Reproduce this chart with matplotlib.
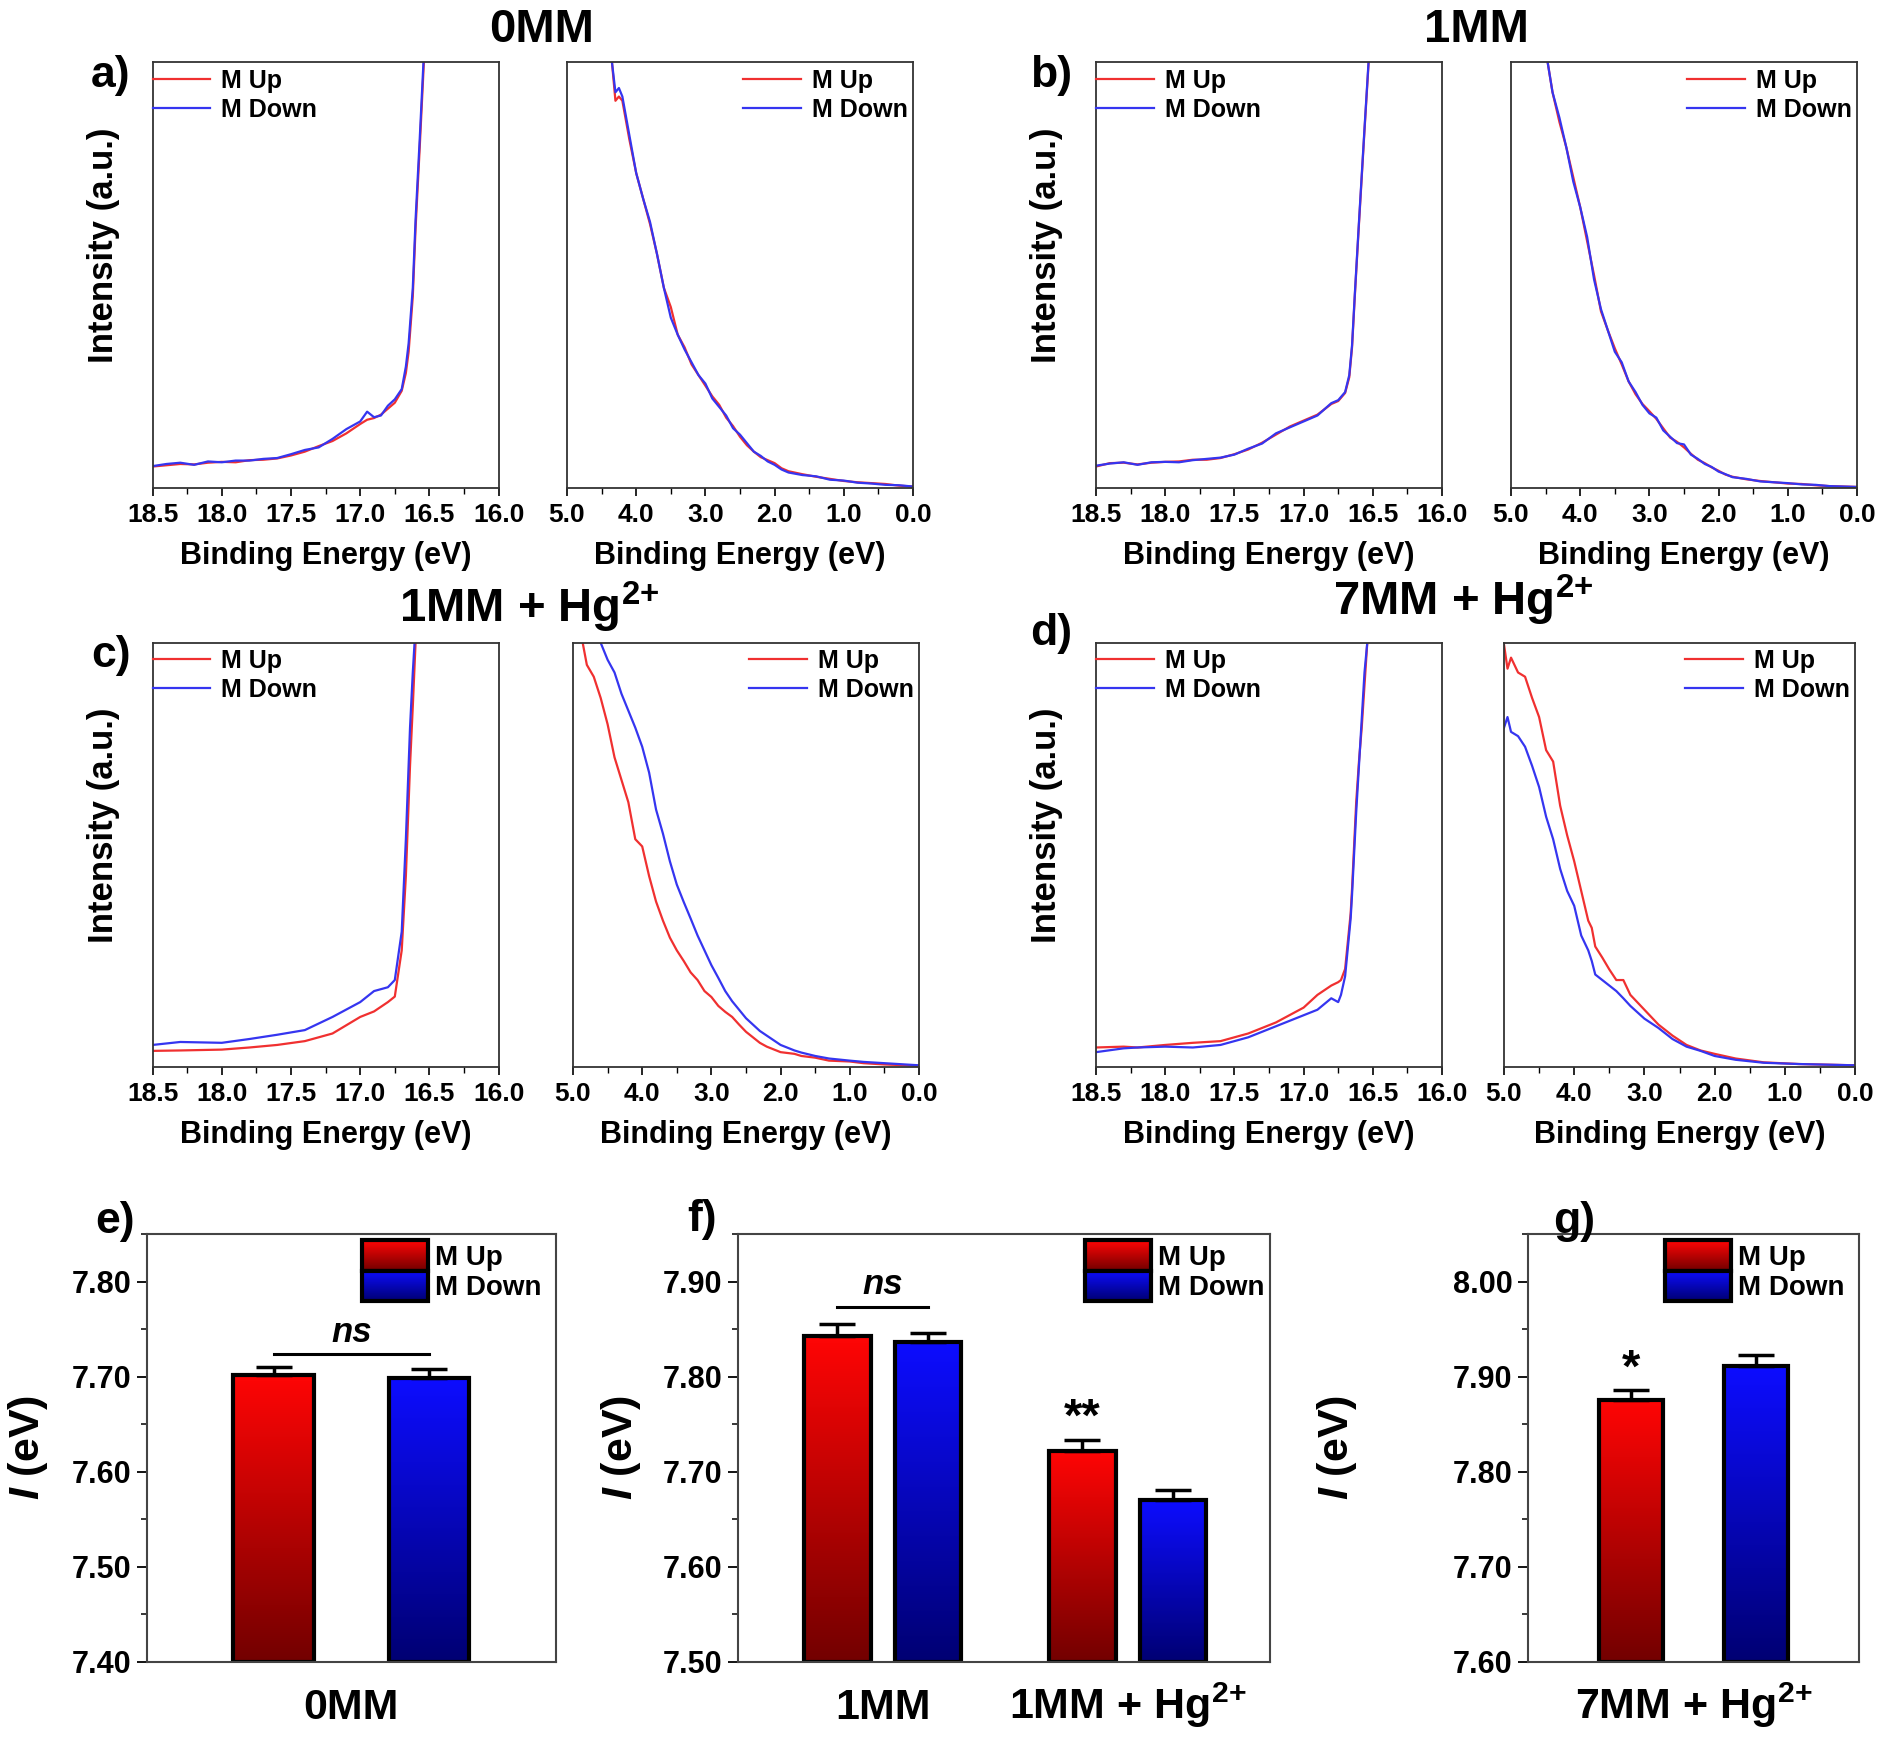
import numpy as np
import matplotlib
matplotlib.use("Agg")
import matplotlib.pyplot as plt
from matplotlib.ticker import MultipleLocator, FormatStrFormatter
from matplotlib.legend_handler import HandlerBase
from matplotlib.image import BboxImage
from matplotlib.transforms import Bbox, TransformedBbox, blended_transform_factory
from matplotlib.patches import Rectangle
from matplotlib.colors import LinearSegmentedColormap, Normalize

plt.rcParams['font.family'] = ['Liberation Sans', 'DejaVu Sans']
plt.rcParams['font.weight'] = 'bold'
plt.rcParams['axes.labelweight'] = 'bold'
plt.rcParams['mathtext.fontset'] = 'custom'
plt.rcParams['mathtext.rm'] = 'Liberation Sans:bold'
plt.rcParams['mathtext.bf'] = 'Liberation Sans:bold'
plt.rcParams['mathtext.it'] = 'Liberation Sans:italic:bold'

# ---- spectra (UPS), intensity in a.u. (axis 0..100) ----
# a) 0MM - secondary electron cutoff
A_CUT_E = [18.5, 18.4, 18.3, 18.2, 18.1, 18.0, 17.9, 17.8, 17.7, 17.6, 17.5, 17.4, 17.3, 17.2, 17.1,
           17.0, 16.95, 16.9, 16.85, 16.8, 16.75, 16.7, 16.67, 16.65, 16.62, 16.6, 16.57, 16.54, 16.5]
A_CUT_UP = [5.0, 5.3, 5.6, 5.5, 5.9, 6.1, 6.0, 6.5, 6.6, 6.9, 7.6, 8.5, 9.8, 11.0, 12.8,
            15.0, 16.0, 16.4, 17.2, 18.6, 20.0, 22.8, 27.0, 32.0, 45.0, 61.0, 80.0, 100.0, 125.0]
A_CUT_DOWN = [5.1, 5.6, 5.9, 5.4, 6.2, 6.0, 6.4, 6.4, 6.8, 7.0, 7.9, 8.9, 9.5, 11.5, 13.8,
              15.6, 17.9, 16.6, 17.0, 19.3, 20.8, 23.2, 28.5, 34.0, 47.0, 63.0, 82.0, 102.0, 127.0]
# a) 0MM - valence band onset
A_VB_E = [4.42, 4.35, 4.3, 4.25, 4.2, 4.1, 4.0, 3.9, 3.8, 3.7, 3.6, 3.5, 3.4, 3.3, 3.2, 3.1, 3.0, 2.9, 2.8,
          2.7, 2.6, 2.5, 2.4, 2.3, 2.2, 2.1, 2.0, 1.9, 1.8, 1.6, 1.4, 1.2, 1.0, 0.8, 0.6, 0.4, 0.2, 0.0]
A_VB_UP = [108, 100, 91, 92, 91, 82, 74, 68, 62, 55, 47, 42.5, 36, 33, 29, 26.5, 24, 21.5, 19.5,
           16.5, 14.5, 12, 10, 8.5, 7.2, 6.5, 5.8, 4.6, 3.9, 3.2, 2.6, 2.1, 1.6, 1.3, 1.1, 0.9, 0.5, 0.3]
A_VB_DOWN = [108, 100, 93, 94, 92, 83, 74, 68, 62.5, 55, 47, 40, 36, 32.5, 29.5, 26.5, 24.5, 21, 19,
             17, 14, 12.5, 10.5, 8.5, 7.5, 6.2, 5.4, 4.3, 3.6, 3.0, 2.7, 1.9, 1.7, 1.2, 1.0, 0.7, 0.6, 0.3]

# b) 1MM
B_CUT_E = [18.5, 18.4, 18.3, 18.2, 18.1, 18.0, 17.9, 17.8, 17.7, 17.6, 17.5, 17.4, 17.3, 17.2, 17.1,
           17.0, 16.9, 16.8, 16.75, 16.7, 16.67, 16.65, 16.63, 16.6, 16.56, 16.53, 16.5]
B_CUT_UP = [5.0, 5.8, 5.9, 5.5, 5.9, 6.1, 6.2, 6.6, 6.6, 7.0, 7.9, 9.0, 10.6, 12.5, 14.4,
            15.8, 17.2, 19.7, 20.4, 22.3, 26.0, 33.0, 45.0, 62.0, 84.0, 100.0, 122.0]
B_CUT_DOWN = [5.2, 5.7, 6.0, 5.4, 6.0, 6.1, 6.0, 6.5, 6.8, 7.1, 7.8, 9.2, 10.4, 12.8, 14.2,
              15.6, 17.0, 19.9, 20.6, 22.5, 26.5, 33.5, 45.5, 62.5, 84.5, 100.5, 122.5]
B_VB_E = [4.47, 4.4, 4.3, 4.2, 4.1, 4.0, 3.9, 3.8, 3.7, 3.6, 3.5, 3.4, 3.3, 3.2, 3.1, 3.0, 2.9, 2.8, 2.7,
          2.6, 2.5, 2.4, 2.3, 2.2, 2.1, 2.0, 1.9, 1.8, 1.6, 1.4, 1.2, 1.0, 0.8, 0.6, 0.4, 0.2, 0.0]
B_VB_UP = [100, 93, 86, 80, 73, 66, 58, 50, 41.5, 37, 32.8, 29, 25, 22, 19.7, 18, 16.2, 14, 11.8,
           10.8, 9.5, 8, 6.6, 5.8, 4.8, 4.0, 3.1, 2.6, 2.0, 1.6, 1.3, 1.0, 0.9, 0.6, 0.4, 0.3, 0.2]
B_VB_DOWN = [100, 93, 87, 80, 72, 66, 59, 49, 42, 37, 32, 29.5, 25, 22.5, 19.5, 17.5, 16.5, 13.5, 12,
             10.5, 10.2, 7.8, 6.8, 5.6, 4.9, 3.8, 3.2, 2.5, 2.1, 1.5, 1.3, 1.1, 0.8, 0.7, 0.4, 0.3, 0.2]

# c) 1MM + Hg2+
C_CUT_E = [18.5, 18.3, 18.0, 17.8, 17.6, 17.4, 17.2, 17.0, 16.9, 16.8, 16.75, 16.7, 16.67, 16.64,
           16.62, 16.6, 16.57, 16.54]
C_CUT_UP = [3.8, 3.9, 4.1, 4.6, 5.2, 6.1, 7.9, 11.8, 13.1, 15.3, 16.6, 27.5, 45.0, 71.0,
            85.0, 100.0, 118.0, 135.0]
C_CUT_DOWN = [5.2, 5.9, 5.7, 6.6, 7.6, 8.7, 11.8, 15.3, 17.9, 18.8, 20.5, 31.9, 53.7, 80.0,
              93.0, 104.0, 122.0, 140.0]
C_VB_E = [4.86, 4.8, 4.7, 4.6, 4.5, 4.4, 4.3, 4.2, 4.1, 4.0, 3.9, 3.8, 3.7, 3.6, 3.5, 3.4, 3.3, 3.2, 3.1,
          3.0, 2.9, 2.8, 2.7, 2.6, 2.5, 2.4, 2.3, 2.2, 2.0, 1.8, 1.7, 1.5, 1.3, 1.0, 0.8, 0.5, 0.0]
C_VB_UP = [100, 94.8, 92, 87, 80.8, 73, 67.7, 62.4, 53.7, 52, 45, 39, 34.5, 30.5, 27.5, 25, 22.3, 20.5, 17.9,
           16.5, 14.4, 13, 11.8, 10, 8.3, 7, 5.7, 4.8, 3.5, 3.1, 2.6, 2.2, 1.5, 1.3, 0.9, 0.6, 0.3]
C_VB_DOWN = [140, 125, 110, 100, 96, 93, 88, 84, 80, 75.5, 69.4, 60.7, 55, 48.5, 43, 38.9, 35, 31, 27.5,
             24, 21, 17.9, 15.5, 13.5, 11.5, 10, 8.5, 7.4, 5.2, 3.9, 3.4, 2.6, 2.0, 1.5, 1.2, 0.9, 0.4]

# d) 7MM + Hg2+
D_CUT_E = [18.5, 18.3, 18.2, 18.0, 17.8, 17.6, 17.4, 17.2, 17.0, 16.9, 16.8, 16.75, 16.73, 16.7,
           16.66, 16.65, 16.62, 16.6, 16.58, 16.56, 16.54, 16.5]
D_CUT_UP = [4.6, 4.8, 4.6, 5.2, 5.7, 6.1, 7.9, 10.5, 14.0, 17.0, 19.2, 20.0, 20.5, 23.1,
            36.2, 42.0, 62.4, 72.0, 80.0, 90.0, 100.0, 125.0]
D_CUT_DOWN = [3.5, 4.4, 4.6, 4.8, 4.6, 5.2, 7.0, 9.6, 12.2, 13.5, 16.2, 15.3, 17.0, 21.4,
              35.0, 40.6, 60.0, 71.0, 82.0, 93.0, 100.0, 125.0]
D_VB_E = [5.0, 4.95, 4.9, 4.8, 4.7, 4.6, 4.5, 4.4, 4.3, 4.2, 4.1, 4.0, 3.9, 3.8, 3.75, 3.7, 3.6, 3.5,
          3.4, 3.3, 3.2, 3.0, 2.8, 2.6, 2.4, 2.2, 2.0, 1.7, 1.3, 0.8, 0.0]
D_VB_UP = [99.6, 93.9, 96.5, 93, 92, 87, 82.5, 74.7, 72, 61.6, 54.6, 48.5, 41.5, 34.5, 32.8, 28.4, 25.8, 23,
           20.5, 20.5, 17, 13.5, 10, 7.4, 5.2, 3.9, 3.1, 2.0, 1.1, 0.7, 0.4]
D_VB_DOWN = [80, 82.5, 79, 78, 75.5, 71, 66, 59, 53.7, 46.7, 41.5, 38, 31, 27.5, 25, 21.8, 20.5, 19.2,
             17.9, 16.2, 14.4, 11.4, 9.2, 6.6, 4.8, 3.8, 2.6, 1.7, 1.0, 0.7, 0.4]

# ---- ionisation energy bars ----
HG = r'Hg$^{\mathbf{2}\mathbf{+}}$'
E_GROUPS = ['0MM']
E_UP, E_UP_ERR = [7.702], [0.008]
E_DOWN, E_DOWN_ERR = [7.698], [0.010]
F_GROUPS = ['1MM', '1MM + ' + HG]
F_UP, F_UP_ERR = [7.843, 7.722], [0.012, 0.011]
F_DOWN, F_DOWN_ERR = [7.836, 7.670], [0.010, 0.011]
G_GROUPS = ['7MM + ' + HG]
G_UP, G_UP_ERR = [7.875], [0.011]
G_DOWN, G_DOWN_ERR = [7.911], [0.012]

RED = '#f03030'
BLUE = '#3535f0'
RED_CMAP = LinearSegmentedColormap.from_list('r', [(0.45, 0, 0), (1.0, 0.02, 0.02)])
BLUE_CMAP = LinearSegmentedColormap.from_list('b', [(0, 0, 0.45), (0.05, 0.05, 1.0)])

W, H = 1884, 1737
fig = plt.figure(figsize=(W / 100, H / 100), dpi=100)


def rect(x0, y0, x1, y1):
    return [x0 / W, 1 - y1 / H, (x1 - x0) / W, (y1 - y0) / H]


def spectrum(ax, e, up, down, xlim, major, minor, legend_loc, ylabel):
    ax.plot(e, up, color=RED, lw=1.6, label='M Up')
    ax.plot(e, down, color=BLUE, lw=1.6, label='M Down')
    ax.set_xlim(*xlim)
    ax.set_ylim(0, 100)
    ax.set_yticks([])
    ax.xaxis.set_major_locator(MultipleLocator(major))
    ax.xaxis.set_minor_locator(MultipleLocator(minor))
    ax.xaxis.set_major_formatter(FormatStrFormatter('%.1f'))
    ax.tick_params(axis='x', which='major', direction='out', length=6, width=1.2,
                   labelsize=19, pad=5)
    ax.tick_params(axis='x', which='minor', direction='out', length=4, width=1.0)
    for s in ax.spines.values():
        s.set_color('#333333')
        s.set_linewidth(1.3)
    ax.set_xlabel('Binding Energy (eV)', fontsize=22, labelpad=10)
    if ylabel:
        ax.set_ylabel('Intensity (a.u.)', fontsize=25)
        ax.yaxis.set_label_coords(-0.095, 0.57)
    if legend_loc == 'upper left':
        anchor = (0.0, 0.985)
    else:
        anchor = (0.985, 0.985)
    ax.legend(loc=legend_loc, bbox_to_anchor=anchor, frameon=False, fontsize=18,
              borderaxespad=0, borderpad=0, handlelength=2.3, handletextpad=0.45,
              labelspacing=0.2)


class HandlerGradient(HandlerBase):
    def __init__(self, cmap):
        super().__init__()
        self.cmap = cmap

    def create_artists(self, legend, orig_handle, xdescent, ydescent, width, height, fontsize, trans):
        bb = TransformedBbox(Bbox.from_bounds(-xdescent, -ydescent, width, height), trans)
        img = BboxImage(bb, cmap=self.cmap, norm=Normalize(0, 1), interpolation='bilinear',
                        origin='lower')
        img.set_data(np.linspace(0, 1, 64).reshape(-1, 1))
        edge = Rectangle((-xdescent, -ydescent), width, height, fill=False,
                         edgecolor='black', lw=3, transform=trans)
        return [img, edge]


def bars(ax, groups, up, up_err, down, down_err, offset, width, xlim, ylim, legend_x):
    x = np.arange(len(groups))
    for vals, errs, sign, cmap in [(up, up_err, -1, RED_CMAP), (down, down_err, 1, BLUE_CMAP)]:
        for xi, v, er in zip(x, vals, errs):
            xc = xi + sign * offset
            ax.imshow(np.linspace(0, 1, 128).reshape(-1, 1), cmap=cmap, aspect='auto',
                      origin='lower', extent=[xc - width / 2, xc + width / 2, ylim[0], v],
                      interpolation='bilinear', zorder=1)
            ax.bar(xc, v - ylim[0], bottom=ylim[0], width=width, fill=False,
                   edgecolor='black', lw=3, zorder=2)
            ax.errorbar(xc, v, yerr=[[0], [er]], fmt='none', ecolor='black',
                        elinewidth=2.5, capsize=13, capthick=2.5, zorder=3)
    ax.set_xlim(*xlim)
    ax.set_ylim(*ylim)
    ax.set_xticks([])
    ax.yaxis.set_major_locator(MultipleLocator(0.1))
    ax.yaxis.set_minor_locator(MultipleLocator(0.05))
    ax.yaxis.set_major_formatter(FormatStrFormatter('%.2f'))
    ax.tick_params(axis='y', which='major', direction='out', length=7, width=1.3,
                   labelsize=22, pad=4)
    ax.tick_params(axis='y', which='minor', direction='out', length=4, width=1.1)
    for s in ax.spines.values():
        s.set_color('#444444')
        s.set_linewidth(1.5)
    tr = blended_transform_factory(ax.transData, ax.transAxes)
    for xi, g in zip(x, groups):
        ax.text(xi, -0.135, g, transform=tr, ha='center', va='baseline', fontsize=31)
    ax.set_ylabel(r'$\it{I}$ (eV)', fontsize=31)
    hup = Rectangle((0, 0), 1, 1)
    hdown = Rectangle((0, 0), 1, 1)
    ax.legend([hup, hdown], ['M Up', 'M Down'], loc='upper right',
              bbox_to_anchor=(legend_x, 0.985), frameon=False, fontsize=20,
              borderaxespad=0, borderpad=0, handlelength=2.4, handleheight=1.3,
              handletextpad=0.25, labelspacing=0.0,
              handler_map={hup: HandlerGradient(RED_CMAP), hdown: HandlerGradient(BLUE_CMAP)})
    return x


# ---- spectra panels ----
ax = fig.add_axes(rect(152.6, 62.5, 498.6, 487.8))
spectrum(ax, A_CUT_E, A_CUT_UP, A_CUT_DOWN, (18.5, 16.0), 0.5, 0.25, 'upper left', True)
ax = fig.add_axes(rect(567, 62.5, 913, 487.8))
spectrum(ax, A_VB_E, A_VB_UP, A_VB_DOWN, (5.0, 0.0), 1.0, 0.5, 'upper right', False)
ax = fig.add_axes(rect(1096, 62.5, 1442, 487.8))
spectrum(ax, B_CUT_E, B_CUT_UP, B_CUT_DOWN, (18.5, 16.0), 0.5, 0.25, 'upper left', True)
ax = fig.add_axes(rect(1511, 62.5, 1857, 487.8))
spectrum(ax, B_VB_E, B_VB_UP, B_VB_DOWN, (5.0, 0.0), 1.0, 0.5, 'upper right', False)

ax = fig.add_axes(rect(152.6, 642.8, 498.6, 1067))
spectrum(ax, C_CUT_E, C_CUT_UP, C_CUT_DOWN, (18.5, 16.0), 0.5, 0.25, 'upper left', True)
ax = fig.add_axes(rect(573, 642.8, 919, 1067))
spectrum(ax, C_VB_E, C_VB_UP, C_VB_DOWN, (5.0, 0.0), 1.0, 0.5, 'upper right', False)
ax = fig.add_axes(rect(1096, 642.8, 1442, 1067))
spectrum(ax, D_CUT_E, D_CUT_UP, D_CUT_DOWN, (18.5, 16.0), 0.5, 0.25, 'upper left', True)
ax = fig.add_axes(rect(1504, 642.8, 1855, 1067))
spectrum(ax, D_VB_E, D_VB_UP, D_VB_DOWN, (5.0, 0.0), 1.0, 0.5, 'upper right', False)

# ---- bar panels ----
ax_e = fig.add_axes(rect(146.6, 1234, 556, 1661.7))
bars(ax_e, E_GROUPS, E_UP, E_UP_ERR, E_DOWN, E_DOWN_ERR, 0.38, 0.394, (-1, 1), (7.40, 7.85), 0.965)
ax_e.yaxis.set_label_coords(-0.236, 0.5)
ax_e.plot([-0.38, 0.38], [7.724, 7.724], color='black', lw=2.2)
ax_e.text(0, 7.729, 'ns', ha='center', va='bottom', fontsize=25, style='italic')

ax_f = fig.add_axes(rect(738, 1234, 1270, 1661.7))
bars(ax_f, F_GROUPS, F_UP, F_UP_ERR, F_DOWN, F_DOWN_ERR, 0.185, 0.271, (-0.591, 1.581), (7.50, 7.95), 0.99)
ax_f.yaxis.set_label_coords(-0.179, 0.5)
ax_f.plot([-0.185, 0.185], [7.873, 7.873], color='black', lw=2.2)
ax_f.text(0, 7.879, 'ns', ha='center', va='bottom', fontsize=25, style='italic')
ax_f.text(1 - 0.185, 7.732, '**', ha='center', va='bottom', fontsize=34)

ax_g = fig.add_axes(rect(1528, 1234, 1859, 1661.7))
bars(ax_g, G_GROUPS, G_UP, G_UP_ERR, G_DOWN, G_DOWN_ERR, 0.38, 0.388, (-1, 1), (7.60, 8.05), 0.957)
ax_g.yaxis.set_label_coords(-0.51, 0.5)
ax_g.text(-0.38, 7.884, '*', ha='center', va='bottom', fontsize=34)


# ---- titles and panel letters ----
def ftext(px, py, s, size, **kw):
    fig.text(px / W, 1 - py / H, s, fontsize=size, ha='center', va='center', **kw)


ftext(542, 30, '0MM', 34)
ftext(1476, 30, '1MM', 34)
ftext(529, 607, '1MM + ' + HG, 34)
ftext(1463, 600, '7MM + ' + HG, 34)
ftext(111, 75, 'a)', 32)
ftext(1051, 75, 'b)', 32)
ftext(111, 656, 'c)', 32)
ftext(1051, 634, 'd)', 32)
ftext(115, 1222, 'e)', 32)
ftext(702, 1220, 'f)', 32)
ftext(1574, 1222, 'g)', 32)

fig.savefig('out.png', dpi=100)
